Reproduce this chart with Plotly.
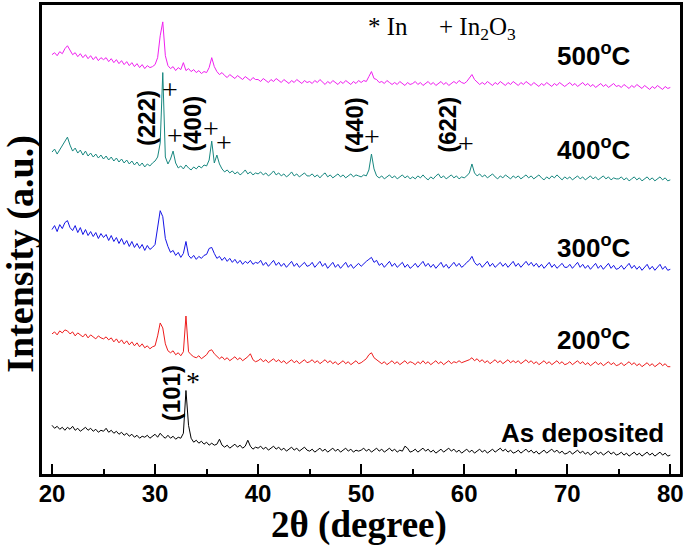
import numpy as np
import plotly.graph_objects as go

# 2-theta grid (degrees), 0.25 deg sampling
two_theta = np.round(np.arange(20.0, 80.0001, 0.25), 2)

# Stacked intensities (a.u., already offset as displayed)
i_500 = [
    421, 423, 420, 424, 422, 427, 430, 425, 421, 423, 419, 422, 418, 421, 417, 420, 416, 419, 415, 418,
    416, 418, 414, 417, 413, 416, 412, 415, 411, 414, 410, 413, 409, 412, 408, 411, 407, 410, 408, 409,
    411, 418, 440, 454, 420, 410, 407, 409, 405, 408, 406, 413, 405, 407, 404, 406, 403, 405, 402, 404,
    403, 408, 418, 409, 404, 401, 403, 400, 398, 401, 399, 397, 400, 398, 396, 399, 397, 395, 398, 396,
    396, 394, 397, 395, 393, 396, 394, 397, 395, 393, 396, 394, 392, 395, 393, 396, 394, 392, 395, 393,
    394, 392, 395, 393, 396, 393, 391, 394, 392, 395, 393, 391, 394, 392, 395, 393, 391, 394, 392, 395,
    393, 395, 394, 399, 404, 397, 396, 393, 394, 392, 395, 393, 391, 393, 391, 394, 392, 390, 393, 391,
    392, 394, 391, 393, 390, 392, 394, 391, 393, 390, 392, 394, 391, 393, 390, 392, 394, 392, 395, 393,
    392, 394, 397, 401, 396, 393, 391, 393, 391, 394, 392, 390, 393, 391, 394, 392, 390, 393, 391, 394,
    392, 390, 393, 391, 394, 392, 390, 393, 391, 389, 392, 390, 393, 391, 389, 392, 390, 393, 391, 389,
    391, 393, 390, 392, 389, 391, 393, 390, 392, 389, 391, 388, 390, 392, 389, 391, 388, 390, 392, 389,
    390, 388, 391, 389, 387, 390, 388, 391, 389, 387, 390, 388, 386, 389, 387, 390, 388, 386, 389, 387,
    388,
]
i_400 = [
    323, 326, 321, 325, 329, 334, 338, 330, 324, 327, 322, 325, 320, 324, 319, 322, 318, 321, 317, 320,
    316, 319, 315, 318, 314, 317, 313, 316, 312, 315, 311, 314, 310, 313, 309, 312, 308, 311, 309, 312,
    314, 318, 332, 403, 318, 311, 316, 324, 312, 307, 309, 306, 310, 307, 305, 308, 306, 309, 307, 310,
    309, 315, 334, 312, 320, 311, 306, 303, 305, 302, 304, 301, 303, 300, 302, 305, 301, 303, 300, 302,
    301, 303, 300, 302, 299, 301, 304, 300, 302, 299, 301, 298, 300, 303, 299, 301, 298, 300, 302, 299,
    299, 301, 298, 300, 297, 300, 302, 298, 300, 297, 299, 301, 298, 300, 297, 299, 301, 298, 300, 299,
    298, 300, 299, 305, 321, 306, 299, 297, 299, 296, 298, 300, 297, 299, 296, 298, 300, 297, 299, 296,
    298, 296, 299, 297, 300, 297, 295, 298, 296, 299, 301, 297, 299, 296, 298, 300, 297, 299, 296, 298,
    297, 299, 302, 311, 302, 299, 301, 298, 300, 297, 299, 301, 298, 296, 299, 297, 300, 298, 296, 299,
    297, 299, 296, 298, 300, 297, 299, 296, 298, 300, 297, 295, 298, 296, 299, 297, 300, 297, 295, 298,
    296, 298, 295, 297, 299, 296, 298, 295, 297, 299, 296, 298, 295, 297, 299, 296, 298, 295, 297, 296,
    296, 298, 295, 297, 294, 296, 298, 295, 297, 294, 296, 298, 295, 297, 294, 296, 298, 295, 297, 294,
    295,
]
i_300 = [
    245, 249, 243, 250, 246, 252, 254, 247, 244, 249, 242, 247, 240, 245, 239, 243, 238, 242, 236, 241,
    237, 240, 234, 239, 233, 237, 231, 236, 230, 234, 228, 233, 227, 231, 226, 230, 224, 229, 225, 227,
    230, 245, 264, 258, 236, 228, 222, 224, 219, 222, 217, 221, 233, 219, 216, 219, 215, 218, 216, 219,
    220, 226, 227, 221, 216, 218, 214, 217, 213, 216, 212, 215, 211, 214, 210, 213, 211, 214, 210, 212,
    211, 214, 209, 212, 208, 211, 214, 209, 212, 208, 211, 207, 210, 213, 208, 211, 207, 210, 212, 208,
    209, 212, 207, 210, 213, 208, 211, 206, 209, 212, 207, 210, 206, 209, 212, 207, 210, 206, 209, 211,
    208, 211, 213, 215, 217, 212, 214, 209, 211, 207, 210, 213, 208, 211, 207, 210, 212, 207, 210, 206,
    208, 211, 207, 210, 213, 208, 211, 207, 210, 206, 209, 212, 207, 210, 206, 209, 212, 208, 211, 207,
    209, 212, 214, 218, 212, 209, 211, 207, 210, 213, 208, 211, 207, 210, 212, 208, 211, 207, 210, 213,
    208, 211, 207, 210, 213, 209, 212, 208, 211, 207, 210, 206, 209, 212, 207, 210, 206, 209, 211, 207,
    207, 210, 206, 209, 212, 207, 210, 206, 209, 205, 208, 211, 206, 209, 205, 208, 211, 206, 209, 205,
    206, 209, 205, 208, 211, 206, 209, 205, 208, 204, 207, 210, 205, 208, 204, 207, 210, 205, 208, 204,
    205,
]
i_200 = [
    140, 142, 139, 143, 141, 144, 143, 140, 142, 138, 141, 139, 137, 140, 136, 139, 137, 135, 138, 136,
    135, 137, 134, 136, 132, 135, 131, 134, 130, 133, 129, 132, 128, 131, 127, 130, 126, 128, 125, 127,
    128, 138, 151, 146, 130, 123, 121, 123, 119, 121, 118, 122, 158, 122, 119, 117, 116, 118, 115, 117,
    119, 123, 124, 120, 117, 115, 117, 114, 116, 113, 115, 117, 114, 116, 113, 115, 117, 120, 114, 112,
    113, 115, 112, 114, 111, 113, 115, 112, 114, 111, 113, 110, 112, 114, 111, 113, 110, 112, 114, 111,
    112, 114, 111, 113, 110, 112, 114, 111, 113, 110, 112, 109, 111, 113, 110, 112, 109, 111, 113, 110,
    111, 113, 115, 119, 121, 116, 114, 112, 110, 112, 109, 111, 113, 110, 112, 109, 111, 113, 110, 112,
    111, 109, 112, 110, 113, 110, 112, 109, 111, 113, 110, 112, 109, 111, 113, 110, 112, 111, 113, 111,
    112, 113, 114, 116, 113, 115, 112, 114, 111, 113, 110, 112, 114, 111, 113, 110, 112, 114, 111, 113,
    111, 113, 110, 112, 114, 111, 113, 110, 112, 109, 111, 113, 110, 112, 109, 111, 113, 110, 112, 109,
    110, 112, 109, 111, 113, 110, 112, 109, 111, 108, 110, 112, 109, 111, 108, 110, 112, 109, 111, 108,
    109, 111, 108, 110, 112, 109, 111, 108, 110, 107, 109, 111, 108, 110, 107, 109, 111, 108, 110, 107,
    107,
]
i_asdep = [
    48, 45, 47, 44, 46, 43, 46, 44, 47, 43, 45, 42, 44, 46, 43, 45, 42, 44, 41, 43,
    42, 45, 41, 43, 40, 42, 39, 41, 38, 40, 37, 39, 36, 38, 35, 37, 36, 38, 35, 37,
    39, 36, 40, 37, 35, 38, 35, 37, 34, 36, 35, 40, 83, 48, 35, 31, 33, 30, 32, 29,
    31, 28, 30, 28, 29, 34, 28, 26, 28, 25, 27, 29, 26, 28, 25, 27, 33, 27, 24, 26,
    25, 27, 24, 26, 23, 25, 27, 24, 26, 23, 25, 22, 24, 26, 23, 25, 22, 24, 26, 23,
    22, 24, 21, 23, 25, 22, 24, 21, 23, 25, 22, 24, 21, 23, 25, 22, 24, 21, 23, 22,
    23, 25, 22, 24, 21, 23, 25, 22, 24, 21, 23, 25, 22, 24, 21, 23, 22, 27, 25, 21,
    22, 24, 21, 23, 25, 22, 24, 21, 23, 20, 22, 24, 21, 23, 25, 22, 24, 21, 23, 20,
    22, 24, 21, 23, 20, 22, 24, 21, 23, 20, 22, 24, 21, 23, 25, 22, 24, 21, 23, 20,
    21, 23, 20, 22, 24, 21, 23, 20, 22, 19, 21, 23, 20, 22, 24, 21, 23, 20, 22, 19,
    20, 22, 19, 21, 23, 20, 22, 19, 21, 18, 20, 22, 19, 21, 18, 20, 22, 19, 21, 18,
    19, 21, 18, 20, 17, 19, 21, 18, 20, 17, 19, 21, 18, 20, 17, 19, 21, 18, 20, 17,
    18,
]

series_names = ["500°C", "400°C", "300°C", "200°C", "As deposited"]
series_values = [i_500, i_400, i_300, i_200, i_asdep]
series_colors = ["#F020F0", "#17877F", "#1414E6", "#EE1C1C", "#000000"]

fig = go.Figure()
for name, vals, col in zip(series_names, series_values, series_colors):
    fig.add_trace(go.Scatter(x=two_theta, y=vals, mode="lines", name=name,
                             line=dict(color=col, width=1), showlegend=False))

SANS = "Liberation Sans, Arial, sans-serif"
SERIF = "Liberation Serif, Times New Roman, serif"

def ann(text, x, y, size, family=SANS, bold=True, angle=0, xanchor="center",
        xref="x", yref="y"):
    fig.add_annotation(x=x, y=y, xref=xref, yref=yref, text=text, showarrow=False,
                       textangle=angle, xanchor=xanchor, yanchor="middle",
                       font=dict(family=family, size=size, color="black",
                                 weight="bold" if bold else "normal"))

# sample labels
ann("500<sup>o</sup>C", 72.6, 421, 26)
ann("400<sup>o</sup>C", 72.6, 327, 26)
ann("300<sup>o</sup>C", 72.6, 228, 26)
ann("200<sup>o</sup>C", 72.6, 135, 26)
ann("As deposited", 71.45, 40, 26)

# legend for markers
ann("* In", 50.46, 449, 25, family=SERIF, bold=False, xanchor="left")
ann("+ In<sub>2</sub>O<sub>3</sub>", 57.4, 447, 25, family=SERIF, bold=False, xanchor="left")

# reflection indices
ann("(222)", 29.19, 357, 24, angle=-90)
ann("(400)", 33.64, 351, 24, angle=-90)
ann("(440)", 49.30, 350, 24, angle=-90)
ann("(622)", 58.39, 350, 24, angle=-90)
ann("(101)", 31.61, 80, 24, angle=-90)

# phase markers
for px, py in [(31.41, 386), (31.90, 340), (35.47, 347), (36.73, 333), (51.04, 339), (60.14, 332)]:
    ann("+", px, py, 28, family=SERIF, bold=False)
ann("*", 33.64, 92, 28, family=SERIF, bold=False)

# axis titles
ann("2θ (degree)", 49.8, -0.108, 37, family=SERIF, yref="paper")
ann("Intensity (a.u.)", -0.034, 221, 38, family=SERIF, angle=-90, xref="paper")

fig.update_layout(
    width=685, height=549,
    margin=dict(l=42, r=3, t=2, b=75),
    paper_bgcolor="white", plot_bgcolor="white",
    xaxis=dict(range=[19.03, 80.94], tick0=20, dtick=10, ticks="inside", ticklen=10,
               tickwidth=2, tickcolor="black", showline=True, mirror=True, linewidth=2.5,
               linecolor="black", showgrid=False, zeroline=False, ticklabelstandoff=-4,
               minor=dict(dtick=5, tick0=20, ticks="inside", ticklen=5, tickwidth=2,
                          tickcolor="black", showgrid=False),
               tickfont=dict(family=SANS, size=24, color="black", weight="bold")),
    yaxis=dict(range=[-1, 471], showticklabels=False, ticks="", showline=True, mirror=True,
               linewidth=2.5, linecolor="black", showgrid=False, zeroline=False),
)

fig.write_html("out.html", config={"displayModeBar": False},
               post_script="document.body.style.margin='0';document.body.style.padding='0';")
